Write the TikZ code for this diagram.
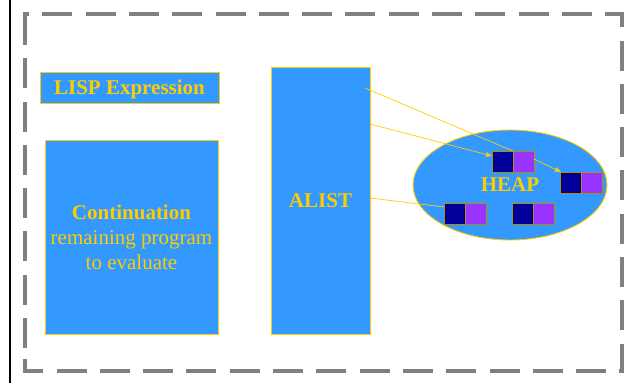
\documentclass[tikz,border=0pt]{standalone}
\usepackage{fontspec}
\setmainfont{Liberation Serif}
\usetikzlibrary{shapes.geometric,arrows.meta}
\definecolor{boxblue}{HTML}{3399FF}
\definecolor{gold}{HTML}{FFCC00}
\definecolor{navy}{HTML}{000099}
\definecolor{violet}{HTML}{9933FF}
\definecolor{frame}{HTML}{808080}
\tikzset{
  bluebox/.style={draw=gold, line width=0.9pt, fill=boxblue, rectangle, inner sep=0pt, outer sep=0pt, text=gold, font=\fontsize{21}{25}\selectfont, align=center},
  carcell/.style={draw=gold!70!black, line width=0.7pt, fill=navy, rectangle, minimum width=21pt, minimum height=21pt, inner sep=0pt, outer sep=0pt},
  cdrcell/.style={carcell, fill=violet},
  link/.style={draw=gold, line width=0.7pt},
  arrowlink/.style={link, -{Triangle[length=6pt,width=4.5pt]}},
  framedash/.style={frame, line width=3.5pt, dash pattern=on 30pt off 13.3pt}
}
\begin{document}
\begin{tikzpicture}[x=1pt,y=-1pt]
\useasboundingbox (0,0) rectangle (634,383);
% left black rule
\draw[line width=1.6pt, black] (10,0) -- (10,383);
% dashed frame
\draw[framedash, dash phase=23pt]
  (25,17) -- (25,14) -- (622,14) -- (622,371) -- (25,371) -- (25,352);
\draw[framedash] (25,348) -- (25,17);
% boxes
\node[bluebox, minimum width=179pt, minimum height=31pt, text depth=0pt] (lisp) at (129.5,87.5) {\textbf{LISP Expression}};
\node[bluebox, minimum width=173pt, minimum height=194pt] (cont) at (131.5,237.5) {\textbf{Continuation}\\remaining program\\to evaluate};
\node[bluebox, minimum width=99pt, minimum height=267pt] (alist) at (320.5,200.5) {\textbf{ALIST}};
\node[bluebox, ellipse, minimum width=194pt, minimum height=110pt] (heap) at (510,185) {\textbf{HEAP}};
% cons cells
\node[carcell] (a1) at (502.5,161.5) {};
\node[cdrcell] (a2) at (523.5,161.5) {};
\node[carcell] (b1) at (570.5,182.5) {};
\node[cdrcell] (b2) at (591.5,182.5) {};
\node[carcell] (c1) at (454.5,213.5) {};
\node[cdrcell] (c2) at (475.5,213.5) {};
\node[carcell] (d1) at (522.5,213.5) {};
\node[cdrcell] (d2) at (543.5,213.5) {};
% connectors
\draw[link] ([xshift=-5pt,yshift=-21pt]alist.north east) -- (a1.north east);
\draw[arrowlink] ([yshift=-57pt]alist.north east) -- ([yshift=5.5pt]a1.west);
\draw[arrowlink] ([yshift=2.5pt]a2.east) -- ([xshift=1pt]b1.north west);
\draw[link] ([yshift=-131pt]alist.north east) -- ([yshift=6.5pt]c1.west);
\end{tikzpicture}
\end{document}
